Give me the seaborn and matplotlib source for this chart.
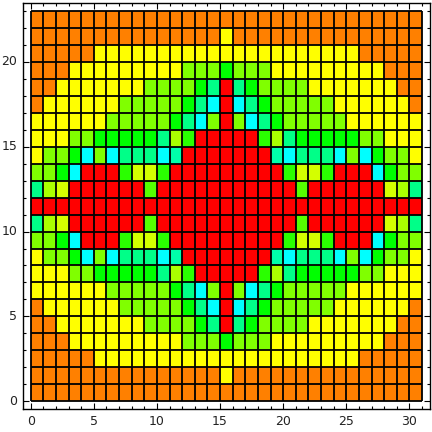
import matplotlib
matplotlib.use("Agg")
import matplotlib.pyplot as plt
import numpy as np
import pandas as pd
import seaborn as sns
from matplotlib.colors import ListedColormap

# cell colour codes, top row (y=22) first, columns x=0..30
grid_rows = [
    "OOOOOOOOOOOOOOOOOOOOOOOOOOOOOOO",
    "OOOOOOOOOOOOOOOYOOOOOOOOOOOOOOO",
    "OOOOOYYYYYYYYYYYYYYYYYYYYYOOOOO",
    "OOOYYYYYYYYYLLLGLLLYYYYYYYYYOOO",
    "OOYYYYYYYLLLLGSRSGLLLLYYYYYYYOO",
    "OYYYYYYLLLLLGSCRCSGLLLLLYYYYYYO",
    "YYYYYYLLLLLGSCLRLCSGLLLLLYYYYYY",
    "YYYLLGGGGGSAHRRRRRHASGGGGGLLYYY",
    "YLLGCLCSSSCTRRRRRRRTCSSSCLCGLLY",
    "LLGCRRRHKKHRRRRRRRRRHKKHRRRCGLL",
    "SAKRRRRRRMRRRRRRRRRRRMRRRRRRKAS",
    "RRRRRRRRRRRRRRRRRRRRRRRRRRRRRRR",
    "SAKRRRRRRMRRRRRRRRRRRMRRRRRRKAS",
    "LLGCRRRHKKHRRRRRRRRRHKKHRRRCGLL",
    "YLLGCLCSSSCTRRRRRRRTCSSSCLCGLLY",
    "YYYLLGGGGGSAHRRRRRHASGGGGGLLYYY",
    "YYYYYYLLLLLGSCLRLCSGLLLLLYYYYYY",
    "OYYYYYYLLLLLGSCRCSGLLLLLYYYYYYO",
    "OOYYYYYYYLLLLGSRSGLLLLYYYYYYYOO",
    "OOOYYYYYYYYYLLLGLLLYYYYYYYYYOOO",
    "OOOOOYYYYYYYYYYYYYYYYYYYYYOOOOO",
    "OOOOOOOOOOOOOOOYOOOOOOOOOOOOOOO",
    "OOOOOOOOOOOOOOOOOOOOOOOOOOOOOOO",
]

codes = ["R", "O", "Y", "K", "A", "L", "M", "H", "G", "S", "T", "C"]
colors = ["#FF0000", "#FF8000", "#FFFF00", "#D4FF00", "#AAFF00", "#80FF00",
          "#55FF00", "#2AFF00", "#00FF00", "#00FF88", "#00FFAA", "#00FFFF"]

x_ticks = [0, 5, 10, 15, 20, 25, 30]
y_ticks = [0, 5, 10, 15, 20]

# bottom row first so row index equals y
values = np.array([[codes.index(c) for c in row] for row in grid_rows[::-1]])
df = pd.DataFrame(values)

fig = plt.figure(figsize=(4.32, 4.32), dpi=100)
ax = fig.add_axes([0.053, 0.053, 0.942, 0.94])

sns.heatmap(df, ax=ax, cmap=ListedColormap(colors), vmin=-0.5, vmax=len(colors) - 0.5,
            cbar=False, linewidths=0)

# cell borders
nx, ny = values.shape[1], values.shape[0]
ax.vlines(np.arange(nx + 1), 0, ny, color="black", linewidth=1.3)
ax.hlines(np.arange(ny + 1), 0, nx, color="black", linewidth=1.3)

ax.set_xlim(-0.02 * nx, nx * 1.02)
ax.set_ylim(-0.02 * ny, ny * 1.02)

for s in ax.spines.values():
    s.set_visible(True)
    s.set_linewidth(1.0)
    s.set_color("black")

ax.set_xticks(x_ticks)
ax.set_xticklabels([str(t) for t in x_ticks], rotation=0)
ax.set_yticks(y_ticks)
ax.set_yticklabels([str(t) for t in y_ticks], rotation=0)
ax.set_xticks(np.arange(0, nx + 1), minor=True)
ax.set_yticks(np.arange(0, ny + 1), minor=True)
ax.tick_params(which="both", direction="in", top=True, right=True,
               bottom=True, left=True, color="black", width=0.8)
ax.tick_params(which="major", length=4, labelsize=9, pad=4, labelcolor="#222222")
ax.tick_params(which="minor", length=2.5)
ax.set_xlabel("")
ax.set_ylabel("")

fig.savefig("out.png", dpi=100)
